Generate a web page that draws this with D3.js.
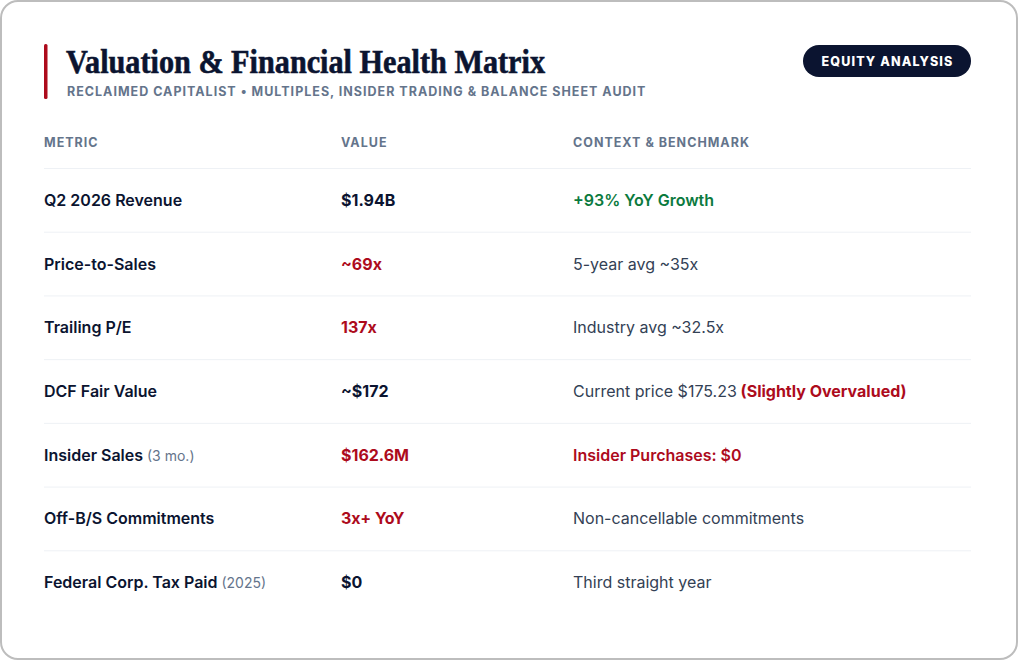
<!DOCTYPE html>
<html>
<head>
<meta charset="utf-8">
<script src="https://cdn.jsdelivr.net/npm/d3@7"></script>
<style>
  html, body { margin: 0; padding: 0; background: #ffffff; }
  svg { display: block; }
</style>
</head>
<body>
<div id="chart"></div>
<script>
// table data
var columns = ["METRIC", "VALUE", "CONTEXT & BENCHMARK"];
var metrics = ["Q2 2026 Revenue", "Price-to-Sales", "Trailing P/E", "DCF Fair Value",
  "Insider Sales", "Off-B/S Commitments", "Federal Corp. Tax Paid"];
var metricNotes = ["", "", "", "", "(3 mo.)", "", "(2025)"];
var values = ["$1.94B", "~69x", "137x", "~$172", "$162.6M", "3x+ YoY", "$0"];
var valueTones = ["plain", "bad", "bad", "plain", "bad", "bad", "plain"];
var contexts = ["+93% YoY Growth", "5-year avg ~35x", "Industry avg ~32.5x", "Current price $175.23",
  "Insider Purchases: $0", "Non-cancellable commitments", "Third straight year"];
var contextTones = ["good", "plain", "plain", "plain", "bad", "plain", "plain"];
var contextFlags = ["", "", "", "(Slightly Overvalued)", "", "", ""];

function base(){
    var w = 1018;
    var h = 660;

    var navy = "#0b1430";
    var slate = "#64748b";
    var red = "#ad0b1c";
    var green = "#0b7a3e";
    var ink = "#334155";

    var svg = d3.select("#chart")
    .append("svg")
    .attr("width", w)
    .attr("height", h);

    // card frame
    svg.append("rect")
    .attr("x", 1).attr("y", 1)
    .attr("width", w - 2).attr("height", h - 2)
    .attr("rx", 17)
    .attr("fill", "#ffffff")
    .attr("stroke", "#bdbdbd")
    .attr("stroke-width", 2);

    // accent bar + title
    svg.append("rect")
    .attr("x", 44).attr("y", 44)
    .attr("width", 3.5).attr("height", 55)
    .attr("rx", 1.5)
    .attr("fill", red);

    svg.append("text")
    .attr("x", 66).attr("y", 73)
    .attr("textLength", 479)
    .attr("lengthAdjust", "spacingAndGlyphs")
    .style("font-family", "'Liberation Serif', 'DejaVu Serif', serif")
    .style("font-weight", 700)
    .style("font-size", "34px")
    .style("fill", navy)
    .style("stroke", navy)
    .style("stroke-width", 0.6)
    .text("Valuation & Financial Health Matrix");

    svg.append("text")
    .attr("x", 67).attr("y", 95.5)
    .style("font-family", "Inter, sans-serif")
    .style("font-weight", 700)
    .style("font-size", "12.5px")
    .style("letter-spacing", "1px")
    .style("fill", slate)
    .text("RECLAIMED CAPITALIST \u2022 MULTIPLES, INSIDER TRADING & BALANCE SHEET AUDIT");

    // badge
    var badge = svg.append("g").attr("transform", "translate(803,45)");
    badge.append("rect")
    .attr("width", 168).attr("height", 32)
    .attr("rx", 16)
    .attr("fill", navy);
    badge.append("text")
    .attr("x", 84.5).attr("y", 20.5)
    .attr("text-anchor", "middle")
    .style("font-family", "Inter, sans-serif")
    .style("font-weight", 800)
    .style("font-size", "12.5px")
    .style("letter-spacing", "1.15px")
    .style("fill", "#ffffff")
    .text("EQUITY ANALYSIS");

    // scales
    var xScale = d3.scaleOrdinal()
    .domain(columns)
    .range([44, 341, 573]);

    var yScale = d3.scaleBand()
    .domain(d3.range(metrics.length))
    .range([168, 614]);

    // header
    svg.selectAll("text.col")
    .data(columns)
    .enter()
    .append("text")
    .attr("class", "col")
    .attr("x", function(d) { return xScale(d); })
    .attr("y", 147)
    .style("font-family", "Inter, sans-serif")
    .style("font-weight", 700)
    .style("font-size", "12.5px")
    .style("letter-spacing", "1px")
    .style("fill", slate)
    .text(function(d) { return d; });

    // row separators
    svg.selectAll("line.sep")
    .data(d3.range(metrics.length))
    .enter()
    .append("line")
    .attr("class", "sep")
    .attr("x1", 44).attr("x2", 971)
    .attr("y1", function(i) { return yScale(i) + 0.5; })
    .attr("y2", function(i) { return yScale(i) + 0.5; })
    .attr("stroke", "#eef1f5")
    .attr("stroke-width", 1);

    var toneColor = function(t, fallback) {
        return t === "bad" ? red : (t === "good" ? green : fallback);
    };

    var rows = svg.selectAll("g.row")
    .data(metrics)
    .enter()
    .append("g")
    .attr("class", "row")
    .attr("transform", function(d, i) {
        return "translate(0," + (yScale(i) + yScale.bandwidth() / 2 + 6) + ")";
    })
    .style("font-family", "Inter, sans-serif")
    .style("font-size", "16px");

    // metric column
    var m = rows.append("text")
    .attr("x", xScale(columns[0]))
    .style("fill", navy);
    m.append("tspan")
    .style("font-weight", 600)
    .text(function(d) { return d; });
    m.append("tspan")
    .style("font-weight", 400)
    .style("font-size", "14px")
    .style("fill", slate)
    .text(function(d, i) { return metricNotes[i] ? " " + metricNotes[i] : ""; });

    // value column
    rows.append("text")
    .attr("x", xScale(columns[1]))
    .style("font-weight", 700)
    .style("fill", function(d, i) { return toneColor(valueTones[i], navy); })
    .text(function(d, i) { return values[i]; });

    // context column
    var c = rows.append("text")
    .attr("x", xScale(columns[2]));
    c.append("tspan")
    .style("font-weight", function(d, i) { return contextTones[i] === "plain" ? 400 : 600; })
    .style("fill", function(d, i) { return toneColor(contextTones[i], ink); })
    .text(function(d, i) { return contexts[i]; });
    c.append("tspan")
    .style("font-weight", 700)
    .style("fill", red)
    .text(function(d, i) { return contextFlags[i] ? " " + contextFlags[i] : ""; });
}

window.onload = base;
</script>
</body>
</html>
